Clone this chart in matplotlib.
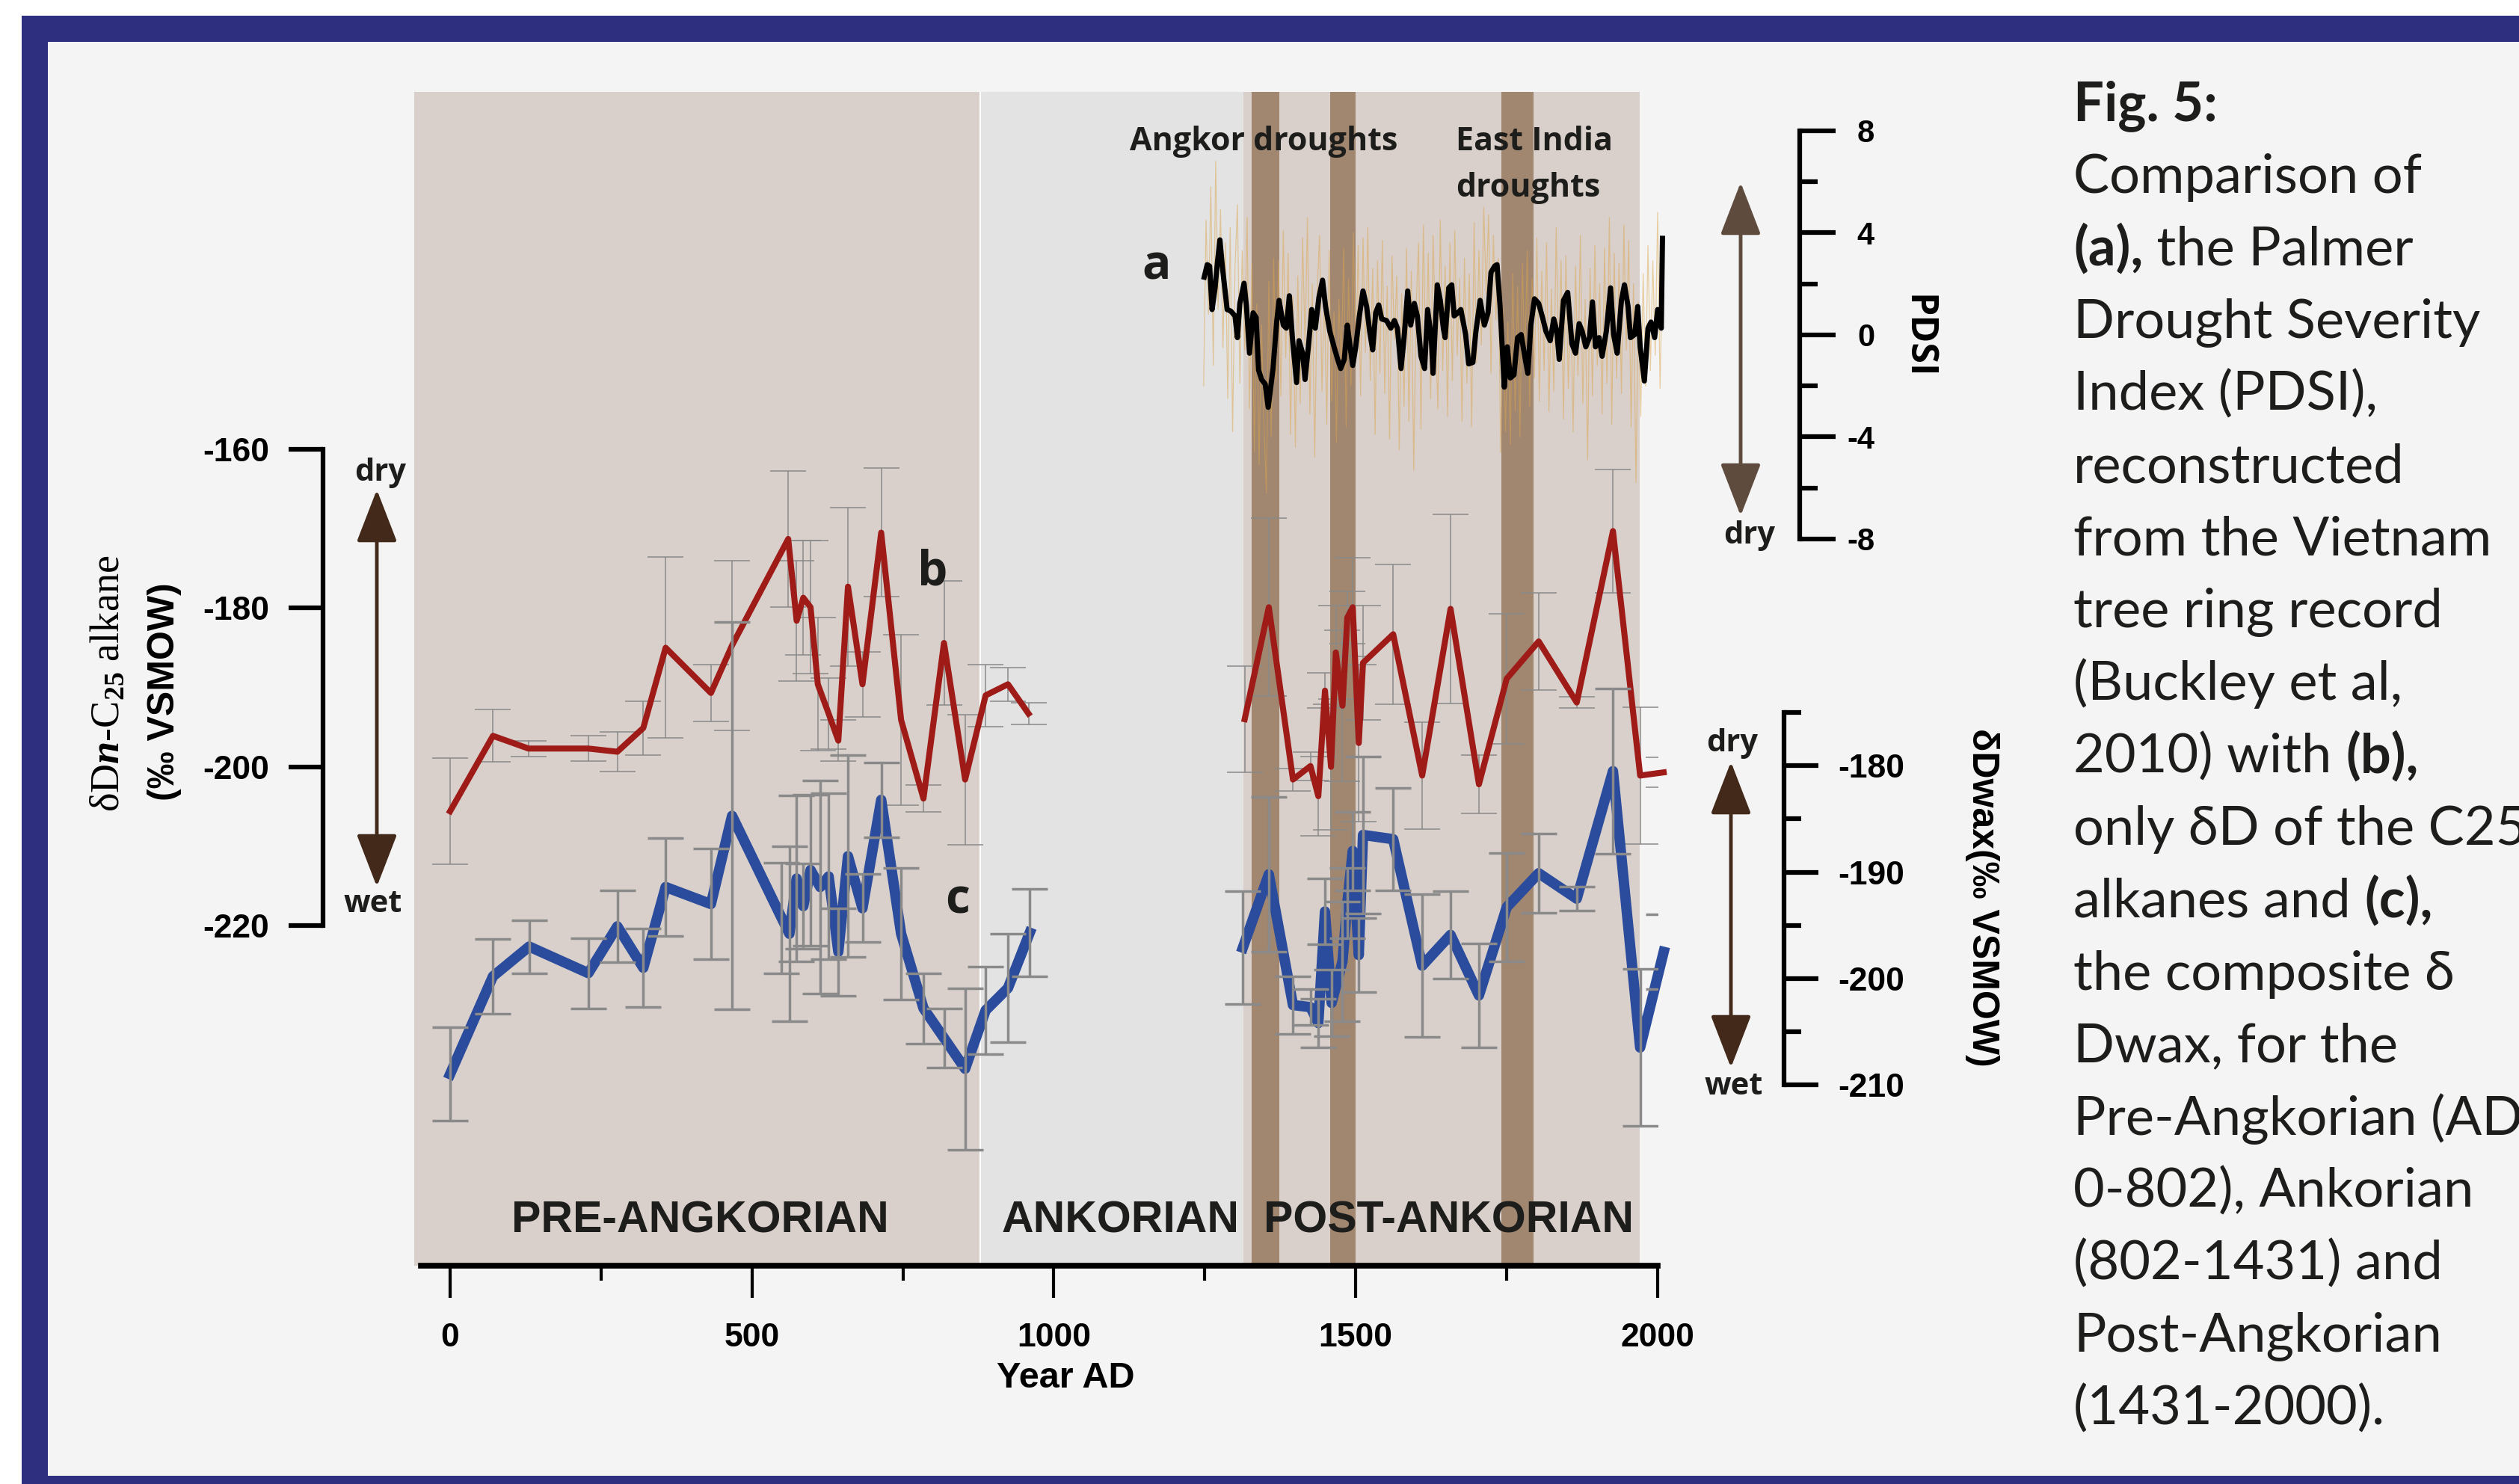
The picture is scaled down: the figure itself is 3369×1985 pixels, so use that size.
import numpy as np
import matplotlib
matplotlib.use("Agg")
import matplotlib.pyplot as plt
from matplotlib.patches import Rectangle, FancyArrowPatch
from matplotlib import font_manager

# ---------------- data ----------------
# PDSI, smoothed (black) and annual (orange)
pdsi_years = [1249, 1254, 1258, 1262, 1267, 1271, 1275, 1279, 1283, 1287,
              1293, 1300, 1304, 1308, 1315, 1319, 1324, 1330, 1335, 1339,
              1344, 1350, 1355, 1363, 1369, 1373, 1380, 1385, 1390, 1395,
              1402, 1406, 1412, 1416, 1422, 1427, 1433, 1439, 1445, 1450,
              1457, 1464, 1470, 1475, 1481, 1486, 1490, 1495, 1500, 1506,
              1512, 1518, 1523, 1528, 1533, 1538, 1543, 1551, 1558, 1564,
              1569, 1575, 1580, 1586, 1591, 1597, 1602, 1608, 1614, 1619,
              1625, 1628, 1635, 1640, 1645, 1648, 1654, 1659, 1663, 1669,
              1674, 1682, 1687, 1694, 1699, 1706, 1713, 1719, 1724, 1730,
              1734, 1739, 1746, 1751, 1756, 1762, 1768, 1774, 1779, 1785,
              1790, 1796, 1803, 1810, 1815, 1822, 1828, 1833, 1837, 1844,
              1851, 1858, 1864, 1870, 1875, 1881, 1887, 1892, 1897, 1903,
              1908, 1915, 1922, 1927, 1933, 1940, 1945, 1951, 1955, 1962,
              1967, 1971, 1978, 1984, 1989, 1995, 2000, 2006, 2008]
pdsi_smooth = [2.26, 2.75, 2.69, 0.99, 1.84, 2.87, 3.72, 2.69, 1.84, 0.99,
               0.93, 0.74, -0.11, 1.23, 2.02, 1.11, -0.72, 0.86, 0.68, -1.38,
               -1.75, -1.93, -2.84, -1.32, 0.50, 1.35, 0.38, 0.26, 1.53, -0.11,
               -1.87, -0.23, -0.72, -1.75, -0.35, 0.99, 0.26, 1.47, 2.14, 1.11,
               0.14, -0.47, -0.96, -1.32, -0.96, 0.38, -0.35, -1.20, -0.47, 0.74,
               1.72, 1.11, 0.14, -0.59, 0.86, 1.17, 0.62, 0.56, 0.26, 0.56,
               0.26, -1.32, -0.11, 1.72, 0.38, 1.23, 0.74, -0.84, -1.32, 0.99,
               -0.11, -1.51, 1.96, 1.35, 0.26, -0.11, 1.84, 1.96, 0.74, 0.86,
               0.99, 0.01, -1.14, -1.08, 0.14, 1.35, 0.38, 0.86, 2.45, 2.69,
               2.75, 1.11, -2.05, -0.47, -1.69, -1.57, -0.11, 0.01, -0.72, -1.51,
               0.38, 1.41, 1.23, 0.62, 0.14, -0.23, 0.62, 0.14, -0.96, 1.35,
               1.66, -0.35, -0.72, 0.44, 0.14, -0.47, -0.11, 1.29, -0.47, -0.11,
               -0.84, 0.14, 1.84, 0.01, -0.72, 1.35, 1.96, 1.11, -0.11, 0.01,
               1.11, -0.47, -1.81, 0.26, 0.50, -0.11, 0.99, 0.26, 3.78]

pdsi_annual_years = np.arange(1248, 2009, 4)
pdsi_annual = [-2.0, 4.5, 0.8, 5.8, -1.2, 6.8, 1.0, 4.9, -0.5, 3.6,
               -2.5, 4.2, -3.8, 2.6, 5.1, -1.9, 3.3, -0.6, 4.6, -2.9,
               2.8, -4.6, 1.2, -5.1, 0.4, -3.6, -6.2, 2.1, -4.0, 3.0,
               -1.8, 2.9, -2.4, 4.1, -0.9, 3.2, -3.9, 1.5, -4.4, 2.3,
               -2.7, 3.8, -0.4, 4.6, -3.1, 2.0, -4.8, 1.6, 3.9, -2.2,
               1.8, -3.5, 3.3, -2.6, 0.9, -4.2, 1.4, -1.3, 3.4, -3.6,
               2.2, -2.0, 4.0, -1.1, 3.5, -2.4, 3.8, -0.7, 4.2, -1.8,
               2.6, -3.9, 2.9, -1.5, 3.7, -2.3, 1.9, -4.1, 3.1, -0.2,
               2.3, -4.5, 1.6, -2.8, 3.4, -3.4, 2.5, -5.3, 1.1, 3.6,
               -3.7, 4.3, -1.2, 3.2, -2.5, 3.9, 0.2, -2.9, 4.5, -1.4,
               2.7, -3.2, 3.6, -1.8, 4.1, -0.8, 2.2, -3.4, 3.0, -1.9,
               2.4, -3.6, 4.4, -1.1, 3.3, -0.4, 5.0, 1.6, 4.7, -1.5,
               3.9, 0.6, 3.0, -4.6, 1.0, -3.8, 0.5, -4.3, 2.4, -3.0,
               1.9, -4.0, 2.8, -1.2, 3.3, -2.8, 2.2, -1.7, 3.8, -2.6,
               2.5, -1.4, 3.6, -3.0, 1.8, -2.2, 4.2, -0.9, 2.9, -3.3,
               3.1, -2.1, 1.5, -3.8, 2.7, -1.6, 3.9, -2.7, 1.4, -4.9,
               2.6, -2.4, 3.5, -1.2, 2.0, -3.1, 3.4, -1.9, 4.6, -3.5,
               3.2, -1.7, 2.8, -2.3, 4.3, -0.6, 3.7, -3.6, 2.0, -5.8,
               1.3, -3.2, 2.4, -2.0, 3.5, -1.4, 2.9, -0.8, 4.8, -2.1,
               3.0]

# (b) dD n-C25 alkane, pre- and post-Angkorian segments
red_pre_years = [0, 71, 130, 229, 277, 320, 357, 432, 467, 560, 574, 585, 597,
                 609, 627, 643, 659, 683, 714, 747, 784, 818, 853, 887, 924, 958]
red_pre_vals = [-205.6, -196.1, -197.7, -197.7, -198.1, -195.1, -185.0, -190.7,
                -184.7, -171.3, -181.6, -178.7, -179.9, -189.6, -193.3, -196.7,
                -177.3, -189.6, -170.5, -194.1, -204.0, -184.4, -201.6, -191.0,
                -189.6, -193.3]
red_pre_err = [6.7, 3.3, 1.0, 1.6, 2.5, 3.4, 11.4, 3.6, 10.7, 8.6, 7.6, 7.2, 8.4,
               8.4, 4.5, 2.6, 10.0, 4.1, 8.1, 10.7, 1.7, 7.8, 8.2, 3.9, 2.1, 1.4]
red_post_years = [1316, 1356, 1396, 1425, 1438, 1449, 1459, 1467, 1478, 1486,
                  1495, 1505, 1512, 1562, 1610, 1657, 1704, 1750, 1803, 1866,
                  1926, 1971, 2010]
red_post_vals = [-194.0, -179.9, -201.6, -199.9, -203.7, -190.4, -200.0, -185.6,
                 -192.3, -181.2, -179.9, -197.0, -186.9, -183.3, -201.1, -180.1,
                 -202.2, -188.9, -184.2, -191.9, -170.3, -201.1, -200.7]
red_post_err = [6.7, 11.2, 1.4, 1.8, 5.0, 2.2, 7.9, 5.9, 9.5, 3.3, 6.2, 9.9, 7.2,
                8.8, 6.7, 11.9, 3.7, 8.2, 6.1, 0.7, 7.8, 8.6, 1.9]

# (c) composite dDwax
blue_pre_years = [0, 71, 131, 229, 277, 320, 357, 432, 467, 549, 562, 574, 585,
                  597, 613, 627, 643, 659, 683, 714, 747, 784, 818, 853, 887, 924, 960]
blue_pre_vals = [-209.0, -199.8, -197.0, -199.5, -195.1, -199.0, -191.4, -193.0,
                 -184.7, -194.3, -195.8, -190.6, -193.2, -189.8, -191.4, -190.4,
                 -197.5, -188.5, -193.4, -183.2, -195.8, -202.8, -205.6, -208.5,
                 -203.0, -200.9, -195.7]
blue_pre_err = [4.4, 3.5, 2.5, 3.3, 3.4, 3.7, 4.6, 5.2, 18.2, 5.2, 8.2, 7.8, 4.0,
                7.1, 10.0, 7.8, 4.1, 9.5, 3.2, 3.5, 6.2, 3.3, 2.8, 7.6, 4.1, 5.1, 4.1]
blue_post_years = [1313, 1356, 1396, 1425, 1438, 1449, 1460, 1478, 1486, 1495,
                   1505, 1512, 1562, 1610, 1657, 1704, 1750, 1803, 1866, 1926,
                   1971, 2010]
blue_post_vals = [-197.1, -190.2, -202.5, -202.7, -204.2, -193.7, -202.3, -198.4,
                  -192.9, -188.0, -197.8, -186.5, -186.9, -198.8, -195.9, -201.6,
                  -193.3, -190.1, -192.5, -180.5, -206.5, -197.5]
blue_post_err = [5.3, 7.3, 2.7, 1.7, 2.3, 3.1, 3.1, 5.6, 3.3, 3.7, 3.5, 7.4, 4.8,
                 6.7, 4.1, 4.9, 5.1, 3.7, 1.1, 7.8, 7.4, 3.5]

# periods and drought bands (years)
period_edges = [-59.4, 878, 1314, 1970]
period_names = ["PRE-ANGKORIAN", "ANKORIAN", "POST-ANKORIAN"]
droughts = [(1328, 1373), (1458, 1500), (1741, 1795)]

x_major = [0, 500, 1000, 1500, 2000]
x_minor = [250, 750, 1250, 1750]
left_ticks = [-160, -180, -200, -220]
pdsi_major = [-8, -4, 0, 4, 8]
pdsi_minor = [-6, -2, 2, 6]
wax_major = [-180, -190, -200, -210]
wax_minor = [-175, -185, -195, -205]

caption = [
    [("Fig. 5:", True)],
    [("Comparison of", False)],
    [("(a),", True), (" the Palmer", False)],
    [("Drought Severity", False)],
    [("Index (PDSI),", False)],
    [("reconstructed", False)],
    [("from the Vietnam", False)],
    [("tree ring record", False)],
    [("(Buckley et al,", False)],
    [("2010) with ", False), ("(b),", True)],
    [("only δD of the C25", False)],
    [("alkanes and ", False), ("(c),", True)],
    [("the composite δ", False)],
    [("Dwax, for the", False)],
    [("Pre-Angkorian (AD", False)],
    [("0-802), Ankorian", False)],
    [("(802-1431) and", False)],
    [("Post-Angkorian", False)],
    [("(1431-2000).", False)],
]

# ---------------- style ----------------
W, H, DPI = 3369, 1985, 100
PT = 72.0 / DPI   # points per pixel

plt.rcParams['font.family'] = ['Liberation Sans', 'DejaVu Sans']
plt.rcParams['font.weight'] = 'bold'
plt.rcParams['axes.unicode_minus'] = False
plt.rcParams['mathtext.fontset'] = 'custom'
plt.rcParams['mathtext.rm'] = 'Liberation Serif'
plt.rcParams['mathtext.it'] = 'Liberation Serif:italic'

installed = {f.name for f in font_manager.fontManager.ttflist}
if 'Liberation Sans Narrow' in installed:
    period_font, period_size = 'Liberation Sans Narrow', 47
else:
    period_font, period_size = 'Liberation Sans', 42.5

navy = '#2e2f7f'
band = '#d9d0cb'
angkor_band = '#e3e3e3'
drought_col = '#a18670'
red = '#9e1b18'
blue = '#2b4c9c'
err_grey = '#8a8a8a'
ink = '#1d1d1b'
myriad = ['Open Sans', 'DejaVu Sans']


def fx(x):
    return x / W


def fy(y):
    return 1 - y / H


fig = plt.figure(figsize=(W / DPI, H / DPI), dpi=DPI, facecolor='white')
fig.add_artist(Rectangle((fx(29), 0), 1, fy(21), transform=fig.transFigure,
                         facecolor=navy, edgecolor='none', zorder=-10))
fig.add_artist(Rectangle((fx(64), fy(1974)), 1, fy(56) - fy(1974), transform=fig.transFigure,
                         facecolor='#f4f4f4', edgecolor='none', zorder=-9))

rect = [fx(554), fy(1693), fx(2217) - fx(554), fy(123) - fy(1693)]

# main axes: time axis + background bands
ax = fig.add_axes(rect)
ax.set_facecolor('none')
ax.set_xlim(period_edges[0], 2000)
ax.set_ylim(0, 1)
for s in ['top', 'left', 'right']:
    ax.spines[s].set_visible(False)
ax.spines['bottom'].set_linewidth(5.5)
ax.spines['bottom'].set_bounds(-48, 2000)
ax.set_yticks([])
ax.set_xticks(x_major)
ax.set_xticks(x_minor, minor=True)
ax.tick_params(axis='x', which='major', length=43 * PT, width=3, pad=24, labelsize=32)
ax.tick_params(axis='x', which='minor', length=20 * PT, width=3)

band_cols = [band, angkor_band, band]
for i in range(3):
    ax.axvspan(period_edges[i], period_edges[i + 1], color=band_cols[i], lw=0, zorder=0)
ax.axvline(period_edges[1], color='white', lw=1.5, zorder=0.5)
for d0, d1 in droughts:
    ax.axvspan(d0, d1, color=drought_col, lw=0, zorder=1)


def overlay(ylim):
    a = fig.add_axes(rect, sharex=ax)
    a.patch.set_visible(False)
    a.set_ylim(*ylim)
    for s in a.spines.values():
        s.set_visible(False)
    a.tick_params(axis='x', which='both', bottom=False, labelbottom=False)
    return a


# (a) PDSI
ax_a = overlay((-36.47, 9.515))
ax_a.yaxis.tick_right()
sp = ax_a.spines['right']
sp.set_visible(True)
sp.set_position(('outward', 190 * PT))
sp.set_bounds(-8, 8)
sp.set_linewidth(4.5)
ax_a.set_yticks(pdsi_major)
ax_a.set_yticks(pdsi_minor, minor=True)
ax_a.tick_params(axis='y', which='major', length=48 * PT, width=4.5, pad=52 * PT, labelsize=30)
ax_a.tick_params(axis='y', which='minor', length=24 * PT, width=4.5)
for lab in ax_a.get_yticklabels():
    lab.set_horizontalalignment('right')
ax_a.plot(pdsi_annual_years, pdsi_annual, color='#dca54c', lw=0.9, alpha=0.5, clip_on=False)
ax_a.plot(pdsi_years, pdsi_smooth, color='black', lw=5, solid_joinstyle='round', clip_on=False)

# (b) n-C25 alkane, left axis
ax_b = overlay((-262.85, -114.98))
ax_b.yaxis.tick_left()
sp = ax_b.spines['left']
sp.set_visible(True)
sp.set_position(('outward', 122 * PT))
sp.set_bounds(-220, -160)
sp.set_linewidth(4.5)
ax_b.set_yticks(left_ticks)
ax_b.tick_params(axis='y', which='major', length=46 * PT, width=4.5, pad=26 * PT, labelsize=32)
for yrs, vals, err in [(red_pre_years, red_pre_vals, red_pre_err),
                       (red_post_years, red_post_vals, red_post_err)]:
    ax_b.errorbar(yrs, vals, yerr=err, fmt='none', ecolor=err_grey, elinewidth=1.1,
                  capsize=17, capthick=1.1, zorder=2)
    ax_b.plot(yrs, vals, color=red, lw=5.8, solid_joinstyle='round', zorder=3, clip_on=False)

# (c) composite dDwax, right axis
ax_c = overlay((-227.02, -116.61))
ax_c.yaxis.tick_right()
sp = ax_c.spines['right']
sp.set_visible(True)
sp.set_position(('outward', 169 * PT))
sp.set_bounds(-210, -175)
sp.set_linewidth(4.5)
ax_c.set_yticks(wax_major)
ax_c.set_yticks(wax_minor, minor=True)
ax_c.tick_params(axis='y', which='major', length=46 * PT, width=4.5, pad=115 * PT, labelsize=32)
ax_c.tick_params(axis='y', which='minor', length=23 * PT, width=4.5)
for lab in ax_c.get_yticklabels():
    lab.set_horizontalalignment('right')
for yrs, vals, err in [(blue_pre_years, blue_pre_vals, blue_pre_err),
                       (blue_post_years, blue_post_vals, blue_post_err)]:
    ax_c.plot(yrs, vals, color=blue, lw=10, solid_joinstyle='round', zorder=3, clip_on=False)
    ax_c.errorbar(yrs, vals, yerr=err, fmt='none', ecolor=err_grey, elinewidth=2.5,
                  capsize=17, capthick=2.5, zorder=4)


# ---------------- annotations ----------------
def txt(x, y, s, **kw):
    return fig.text(fx(x), fy(y), s, **kw)


def varrow(x, y0, y1, color):
    fig.add_artist(FancyArrowPatch((fx(x), fy(y0)), (fx(x), fy(y1)), transform=fig.transFigure,
                                   arrowstyle='<|-|>,head_length=2.2,head_width=0.85',
                                   mutation_scale=20, color=color, lw=3.5,
                                   shrinkA=0, shrinkB=0, zorder=5))


txt(1690, 201, "Angkor droughts", ha='center', va='baseline', fontsize=31, family=myriad, color=ink)
txt(1947, 201, "East India", ha='left', va='baseline', fontsize=31, family=myriad, color=ink)
txt(1947, 263, "droughts", ha='left', va='baseline', fontsize=31, family=myriad, color=ink)
txt(1547, 373, "a", ha='center', va='baseline', fontsize=46, family=myriad, color=ink)
txt(1247, 782, "b", ha='center', va='baseline', fontsize=46, family=myriad, color=ink)
txt(1281, 1222, "c", ha='center', va='baseline', fontsize=46, family=myriad, color=ink)

for name, cx in zip(period_names, [936, 1499, 1938]):
    txt(cx, 1648, name, ha='center', va='baseline', fontsize=period_size,
        family=period_font, color=ink)

txt(1425, 1843, "Year AD", ha='center', va='center', fontsize=35)

# left axis label and arrow
txt(145, 914, "δD$\\mathit{n}$-C$_{25}$ alkane", rotation=90, ha='center', va='center',
    fontsize=39, family='Liberation Serif', fontweight='normal', color='black')
txt(220, 925, "(‰ VSMOW)", rotation=90, ha='center', va='center', fontsize=36)
varrow(504, 655, 1186, '#42291a')
txt(509, 643, "dry", ha='center', va='baseline', fontsize=30, family=myriad, color=ink)
txt(499, 1220, "wet", ha='center', va='baseline', fontsize=30, family=myriad, color=ink)

# PDSI label and arrow
txt(2565, 450, "PDSI", rotation=-90, ha='center', va='center', fontsize=36, family=myriad, color='black')
varrow(2328, 244, 690, '#5e4b3e')
txt(2340, 727, "dry", ha='center', va='baseline', fontsize=30, family=myriad, color=ink)

# dDwax label and arrow
txt(2651, 1200, "δDwax(‰ VSMOW)", rotation=-90, ha='center', va='center', fontsize=36)
varrow(2315, 1019, 1428, '#42291a')
txt(2317, 1005, "dry", ha='center', va='baseline', fontsize=30, family=myriad, color=ink)
txt(2319, 1464, "wet", ha='center', va='baseline', fontsize=30, family=myriad, color=ink)

# caption
renderer = fig.canvas.get_renderer()
for i, pieces in enumerate(caption):
    x = 2773
    y = 161 + i * 96.9
    for s, bold in pieces:
        t = txt(x, y, s, ha='left', va='baseline', fontsize=52,
                fontweight='bold' if bold else 'normal',
                family=['Lato', 'DejaVu Sans'], color=ink)
        x += t.get_window_extent(renderer).width

fig.savefig("out.png", dpi=DPI, facecolor=fig.get_facecolor())
